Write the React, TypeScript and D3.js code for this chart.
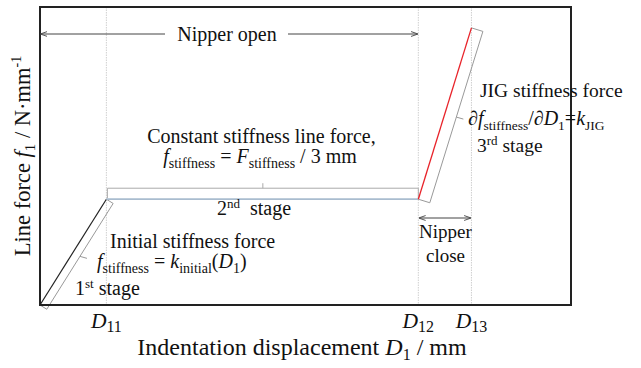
import React from "react";
import * as d3 from "d3";

// Displacement (arbitrary units) and line force (arbitrary units)
const stage1X = [0, 1.0];
const stage1Y = [0, 3.55];
const stage2X = [1.0, 5.7];
const stage2Y = [3.55, 3.55];
const stage3X = [5.7, 6.5];
const stage3Y = [3.55, 9.3];
const tickValues = [1.0, 5.7, 6.5];
const tickLabels = ["11", "12", "13"];

const W = 641;
const H = 368;
const M = { left: 40, top: 7, right: 571, bottom: 305 };
const FONT = "'Liberation Serif', 'Times New Roman', serif";
const MATH = "'Liberation Serif', serif";

export default function App() {
  const x = d3.scaleLinear().domain([0, 8]).range([M.left, M.right]);
  const y = d3.scaleLinear().domain([0, 10]).range([M.bottom, M.top]);
  const line = d3.line<[number, number]>().x((d) => x(d[0])).y((d) => y(d[1]));
  const pts = (xs: number[], ys: number[]) => xs.map((v, i) => [v, ys[i]] as [number, number]);

  // bracket parallel to a segment, offset to the right-hand side
  const bracket = (xs: number[], ys: number[], off: number, notch: number) => {
    const p0 = [x(xs[0]), y(ys[0])];
    const p1 = [x(xs[1]), y(ys[1])];
    const dx = p1[0] - p0[0];
    const dy = p1[1] - p0[1];
    const len = Math.hypot(dx, dy);
    const n = [-dy / len, dx / len];
    const nn = n[0] < 0 ? [-n[0], -n[1]] : n;
    const a = [p0[0] + nn[0] * off, p0[1] + nn[1] * off];
    const b = [p1[0] + nn[0] * off, p1[1] + nn[1] * off];
    const m = [(a[0] + b[0]) / 2, (a[1] + b[1]) / 2];
    return `M${p0[0]},${p0[1]}L${a[0]},${a[1]}L${b[0]},${b[1]}L${p1[0]},${p1[1]}M${m[0]},${m[1]}L${m[0] + notch},${m[1] + 2}`;
  };

  const yPlateau = y(stage2Y[0]);
  const bx0 = x(stage2X[0]) + 1;
  const bx1 = x(stage2X[1]);
  const by = yPlateau - 11;
  const bmid = (bx0 + bx1) / 2;
  const bracket2 = `M${bx0},${yPlateau - 1}L${bx0},${by}L${bx1},${by}L${bx1},${yPlateau - 1}M${bmid},${by}L${bmid},${by - 5}`;

  const arrowY = 34;
  const closeY = 218;

  return (
    <svg width={W} height={H} style={{ position: "absolute", left: 0, top: 0, background: "#fff" }} fontFamily={FONT}>
      <defs>
        <marker id="ah" viewBox="0 0 10 10" refX="9" refY="5" markerWidth="7" markerHeight="7" orient="auto-start-reverse">
          <path d="M0,1.5L10,5L0,8.5" fill="none" stroke="#444" strokeWidth="1.3" />
        </marker>
      </defs>
      <rect x={0} y={0} width={W} height={H} fill="#fff" />

      {/* guide lines */}
      {tickValues.map((t, i) => (
        <line key={i} x1={x(t)} x2={x(t)} y1={M.top} y2={M.bottom} stroke="#c4c4c4" strokeWidth={0.8} strokeDasharray="1.5,1" />
      ))}

      {/* brackets */}
      <path d={bracket(stage1X, stage1Y, 8, 7)} fill="none" stroke="#999" strokeWidth={1} />
      <path d={bracket(stage3X, stage3Y, 12, 7)} fill="none" stroke="#999" strokeWidth={1} />
      <path d={bracket2} fill="none" stroke="#aaa" strokeWidth={1} />

      {/* data lines */}
      <path d={line(pts(stage1X, stage1Y)) || ""} fill="none" stroke="#222" strokeWidth={1.2} />
      <path d={line(pts(stage2X, stage2Y)) || ""} fill="none" stroke="#a9bccf" strokeWidth={1.8} />
      <path d={line(pts(stage3X, stage3Y)) || ""} fill="none" stroke="#e8232a" strokeWidth={1.3} />

      {/* frame */}
      <rect x={M.left} y={M.top} width={M.right - M.left} height={M.bottom - M.top} fill="none" stroke="#222" strokeWidth={2} />

      {/* Nipper open arrows */}
      <line x1={165} x2={x(0) + 1} y1={arrowY} y2={arrowY} stroke="#444" strokeWidth={1} markerEnd="url(#ah)" />
      <line x1={288} x2={x(stage2X[1]) - 1} y1={arrowY} y2={arrowY} stroke="#444" strokeWidth={1} markerEnd="url(#ah)" />
      <text x={227} y={41} fontSize={20} textAnchor="middle" fill="#111">Nipper open</text>

      {/* Nipper close */}
      <line x1={x(stage3X[0]) + 1} x2={x(stage3X[1]) - 1} y1={closeY} y2={closeY} stroke="#444" strokeWidth={1} markerStart="url(#ah)" markerEnd="url(#ah)" />
      <text x={445.5} y={238} fontSize={19} textAnchor="middle" fill="#111">Nipper</text>
      <text x={445.5} y={262} fontSize={19} textAnchor="middle" fill="#111">close</text>

      {/* 2nd stage texts */}
      <text x={261.5} y={143} fontSize={20} textAnchor="middle" fill="#111">Constant stiffness line force,</text>
      <text x={260} y={163} fontSize={20} textAnchor="middle" fill="#111">
        <tspan fontStyle="italic">f</tspan>
        <tspan fontSize={14} dy={5}>stiffness</tspan>
        <tspan dy={-5}> = </tspan>
        <tspan fontStyle="italic">F</tspan>
        <tspan fontSize={14} dy={5}>stiffness</tspan>
        <tspan dy={-5}> / 3 mm</tspan>
      </text>
      <text x={217} y={215} fontSize={20} fill="#111">
        2<tspan fontSize={13} dy={-7}>nd</tspan>
        <tspan dy={7}>{"\u00a0 stage"}</tspan>
      </text>

      {/* 1st stage texts */}
      <text x={110} y={248} fontSize={20} fill="#111">Initial stiffness force</text>
      <text x={97} y={268} fontSize={20} fill="#111">
        <tspan fontStyle="italic">f</tspan>
        <tspan fontSize={14} dy={5}>stiffness</tspan>
        <tspan dy={-5}> = </tspan>
        <tspan fontStyle="italic">k</tspan>
        <tspan fontSize={14} dy={5}>initial</tspan>
        <tspan dy={-5}>(</tspan>
        <tspan fontStyle="italic">D</tspan>
        <tspan fontSize={14} dy={5}>1</tspan>
        <tspan dy={-5}>)</tspan>
      </text>
      <text x={75} y={295} fontSize={20} fill="#111">
        1<tspan fontSize={13} dy={-7}>st</tspan>
        <tspan dy={7}> stage</tspan>
      </text>

      {/* 3rd stage texts */}
      <text x={480} y={97} fontSize={19.5} fill="#111">JIG stiffness force</text>
      <text x={468} y={125} fontSize={20} fill="#111" fontFamily={MATH}>
        <tspan fontStyle="italic">∂f</tspan>
        <tspan fontSize={13.5} dy={5}>stiffness</tspan>
        <tspan dy={-5}>/</tspan>
        <tspan fontStyle="italic">∂D</tspan>
        <tspan fontSize={13.5} dy={5}>1</tspan>
        <tspan dy={-5}>=</tspan>
        <tspan fontStyle="italic">k</tspan>
        <tspan fontSize={13.5} dy={5}>JIG</tspan>
      </text>
      <text x={477} y={152} fontSize={19.5} fill="#111">
        3<tspan fontSize={13} dy={-7}>rd</tspan>
        <tspan dy={7}> stage</tspan>
      </text>

      {/* tick labels */}
      {tickValues.map((t, i) => (
        <text key={i} x={x(t)} y={328} fontSize={21.5} textAnchor="middle" fill="#111">
          <tspan fontStyle="italic">D</tspan>
          <tspan fontSize={16} dy={4}>{tickLabels[i]}</tspan>
        </text>
      ))}

      {/* axis titles */}
      <text x={302} y={355} fontSize={24} textAnchor="middle" fill="#111">
        Indentation displacement <tspan fontStyle="italic">D</tspan>
        <tspan fontSize={16} dy={5}>1</tspan>
        <tspan dy={-5}> / mm</tspan>
      </text>
      <text transform={`translate(30,156) rotate(-90)`} fontSize={22.5} textAnchor="middle" fill="#111">
        Line force <tspan fontStyle="italic">f</tspan>
        <tspan fontSize={15} dy={5}>1</tspan>
        <tspan dy={-5}> / N·mm</tspan>
        <tspan fontSize={14} dy={-9}>-1</tspan>
      </text>
    </svg>
  );
}
